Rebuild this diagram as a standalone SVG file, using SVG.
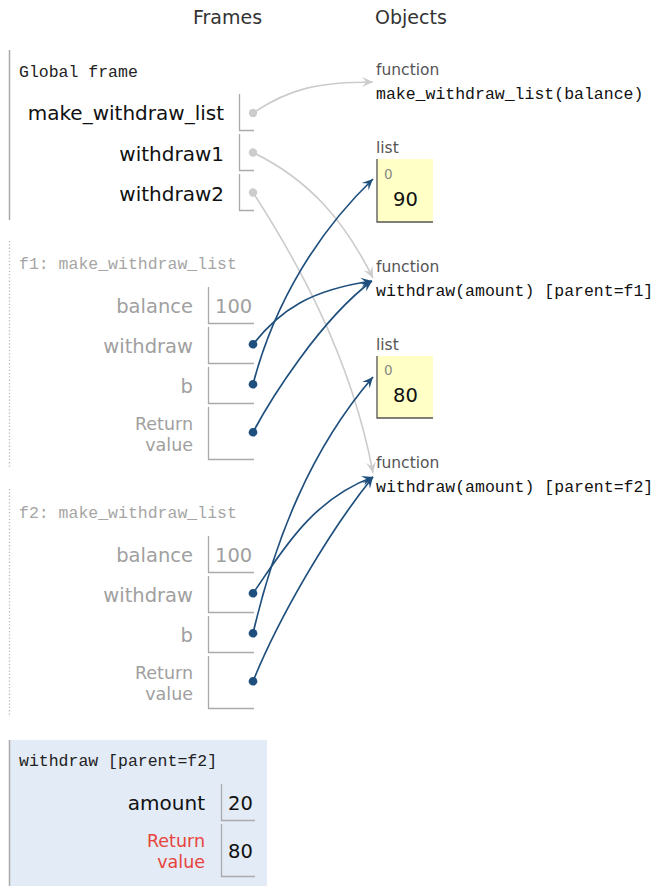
<svg xmlns="http://www.w3.org/2000/svg" width="663" height="895" viewBox="0 0 663 895">
<style>
.hdr{font-family:"DejaVu Sans",sans-serif;font-size:19px;fill:#333}
.ftitle{font-family:"Liberation Mono",monospace;font-size:16.5px;fill:#222}
.ztitle{font-family:"Liberation Mono",monospace;font-size:16.5px;fill:#a5a5a5}
.lbl{font-family:"DejaVu Sans",sans-serif;font-size:20px;fill:#111;text-anchor:end}
.zlbl{font-family:"DejaVu Sans",sans-serif;font-size:19.5px;fill:#a0a0a0;text-anchor:end}
.zret{font-family:"DejaVu Sans",sans-serif;font-size:17.5px;fill:#a0a0a0;text-anchor:end}
.ret{font-family:"DejaVu Sans",sans-serif;font-size:17.5px;fill:#e8433c;text-anchor:end}
.val{font-family:"DejaVu Sans",sans-serif;font-size:19.5px;fill:#111}
.zval{font-family:"DejaVu Sans",sans-serif;font-size:19.5px;fill:#a0a0a0}
.type{font-family:"DejaVu Sans",sans-serif;font-size:15.5px;fill:#555}
.code{font-family:"Liberation Mono",monospace;font-size:16.5px;fill:#111}
.idx{font-family:"DejaVu Sans",sans-serif;font-size:13.5px;fill:#888}
.cell{fill:none;stroke:#aaa;stroke-width:1.3}
.lst{fill:#ffffc6}
.lstb{fill:none;stroke:#555;stroke-width:1.3}
.gdot{fill:#cccccc}
.bdot{fill:#1f4f7d}
.gc{fill:none;stroke:#cccccc;stroke-width:1.6}
.bc{fill:none;stroke:#1f4f7d;stroke-width:1.7}
</style>
<defs>
<marker id="ag" viewBox="0 0 10 10" refX="10" refY="5" markerWidth="13" markerHeight="11" markerUnits="userSpaceOnUse" orient="auto">
<path d="M0,0.5 L10,5 L0,9.5 L4,5 z" fill="#cccccc"/>
</marker>
<marker id="ab" viewBox="0 0 10 10" refX="10" refY="5" markerWidth="13" markerHeight="11" markerUnits="userSpaceOnUse" orient="auto">
<path d="M0,0.5 L10,5 L0,9.5 L4,5 z" fill="#1f4f7d"/>
</marker>
</defs>
<rect width="663" height="895" fill="#ffffff"/>
<text class="hdr" x="193" y="24">Frames</text>
<text class="hdr" x="375" y="24">Objects</text>

<g id="global-frame">
<line x1="9.5" y1="50" x2="9.5" y2="220" stroke="#aaa" stroke-width="1.5"/>
<text class="ftitle" x="19" y="77">Global frame</text>
<text class="lbl" x="224" y="120">make_withdraw_list</text>
<path class="cell" d="M239.5,94 V130.5 H254"/>
<circle class="gdot" cx="253" cy="113" r="4.2"/>
<text class="lbl" x="224" y="161">withdraw1</text>
<path class="cell" d="M239.5,134 V170.5 H254"/>
<circle class="gdot" cx="253" cy="152.5" r="4.2"/>
<text class="lbl" x="224" y="201">withdraw2</text>
<path class="cell" d="M239.5,174 V210.5 H254"/>
<circle class="gdot" cx="253" cy="192.5" r="4.2"/>
</g>

<g id="f1-frame">
<line x1="9.5" y1="241" x2="9.5" y2="468" stroke="#bbb" stroke-width="1.3" stroke-dasharray="1.3,2"/>
<text class="ztitle" x="19" y="269">f1: make_withdraw_list</text>
<text class="zlbl" x="193" y="313">balance</text>
<path class="cell" d="M208.5,287 V323.5 H254"/>
<text class="zval" x="215" y="313">100</text>
<text class="zlbl" x="193" y="353">withdraw</text>
<path class="cell" d="M208.5,327 V363.5 H254"/>
<circle class="bdot" cx="253" cy="344.3" r="4.3"/>
<text class="zlbl" x="193" y="393">b</text>
<path class="cell" d="M208.5,367 V403.5 H254"/>
<circle class="bdot" cx="253" cy="384.3" r="4.3"/>
<text class="zret" x="193" y="429.5">Return</text>
<text class="zret" x="193" y="451">value</text>
<path class="cell" d="M208.5,407 V459.5 H254"/>
<circle class="bdot" cx="253" cy="432.3" r="4.3"/>
</g>

<g id="f2-frame">
<line x1="9.5" y1="489" x2="9.5" y2="717" stroke="#bbb" stroke-width="1.3" stroke-dasharray="1.3,2"/>
<text class="ztitle" x="19" y="518">f2: make_withdraw_list</text>
<text class="zlbl" x="193" y="562">balance</text>
<path class="cell" d="M208.5,536 V572.5 H254"/>
<text class="zval" x="215" y="562">100</text>
<text class="zlbl" x="193" y="602">withdraw</text>
<path class="cell" d="M208.5,576 V612.5 H254"/>
<circle class="bdot" cx="253" cy="593.3" r="4.3"/>
<text class="zlbl" x="193" y="642">b</text>
<path class="cell" d="M208.5,616 V652.5 H254"/>
<circle class="bdot" cx="253" cy="633.3" r="4.3"/>
<text class="zret" x="193" y="678.5">Return</text>
<text class="zret" x="193" y="700">value</text>
<path class="cell" d="M208.5,656 V708.5 H254"/>
<circle class="bdot" cx="253" cy="681.3" r="4.3"/>
</g>

<g id="withdraw-frame">
<rect x="9" y="740" width="258" height="146" fill="#e2ebf6"/>
<line x1="9.5" y1="740" x2="9.5" y2="886" stroke="#aaa" stroke-width="1.5"/>
<text class="ftitle" x="19" y="766">withdraw [parent=f2]</text>
<text class="lbl" x="205" y="810">amount</text>
<path class="cell" d="M221.5,784 V820.5 H255"/>
<text class="val" x="228" y="810">20</text>
<text class="ret" x="205" y="846.5">Return</text>
<text class="ret" x="205" y="867.5">value</text>
<path class="cell" d="M221.5,824 V876.5 H255"/>
<text class="val" x="228" y="858">80</text>
</g>

<g id="obj-func-make">
<text class="type" x="376" y="75">function</text>
<text class="code" x="376" y="98.5">make_withdraw_list(balance)</text>
</g>

<g id="obj-list1">
<text class="type" x="376" y="153">list</text>
<rect class="lst" x="377" y="159" width="56" height="63"/>
<path class="lstb" d="M377,159 V222 H433"/>
<text class="idx" x="384" y="178.5">0</text>
<text class="val" x="393" y="206">90</text>
</g>

<g id="obj-func-f1">
<text class="type" x="376" y="272">function</text>
<text class="code" x="376" y="295.5">withdraw(amount) [parent=f1]</text>
</g>

<g id="obj-list2">
<text class="type" x="376" y="349.5">list</text>
<rect class="lst" x="377" y="356" width="56" height="62"/>
<path class="lstb" d="M377,356 V418 H433"/>
<text class="idx" x="384" y="375">0</text>
<text class="val" x="393" y="402">80</text>
</g>

<g id="obj-func-f2">
<text class="type" x="376" y="468">function</text>
<text class="code" x="376" y="491.5">withdraw(amount) [parent=f2]</text>
</g>

<g id="connectors">
<path class="gc" marker-end="url(#ag)" d="M253,113 C290,88 320,82 373,82"/>
<path class="gc" marker-end="url(#ag)" d="M253,152.5 C310,180 345,222 373,278"/>
<path class="gc" marker-end="url(#ag)" d="M253,192.5 C290,250 350,350 373,473"/>
<path class="bc" marker-end="url(#ab)" d="M253,384.3 C275,300 320,230 373,179"/>
<path class="bc" marker-end="url(#ab)" d="M253,344.3 C280,310 310,290 372,281"/>
<path class="bc" marker-end="url(#ab)" d="M253,432.3 C270,400 320,320 372,281"/>
<path class="bc" marker-end="url(#ab)" d="M253,633.3 C275,540 310,450 373,377"/>
<path class="bc" marker-end="url(#ab)" d="M253,593.3 C280,555 310,500 373,477"/>
<path class="bc" marker-end="url(#ab)" d="M253,681.3 C280,615 330,530 373,477"/>
</g>
</svg>
